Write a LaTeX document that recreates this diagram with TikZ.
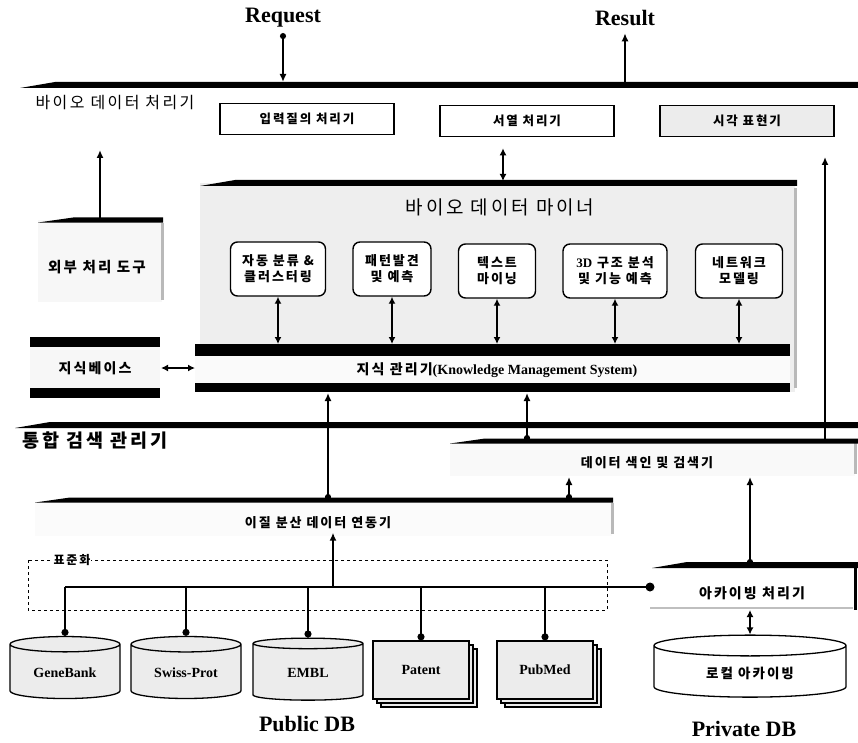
\documentclass[tikz,border=0pt]{standalone}
\usepackage{fontspec}
\setmainfont{Liberation Serif}
\newfontfamily\kr{Noto Sans CJK KR}
\newfontfamily\krw[LetterSpace=15]{Noto Sans CJK KR}
\usetikzlibrary{arrows.meta,shapes.geometric,shadows}

\newcommand{\tierbar}[4]{%
  \fill (#1,#3+#4/2) -- (#1+35,#3-#4/2) -- (#2,#3-#4/2) -- (#2,#3+#4/2) -- cycle;}

\begin{document}
\begin{tikzpicture}[x=1pt,y=-1pt,
    bigtitle/.style={font=\bfseries\fontsize{22}{24}\selectfont},
    layername/.style={font=\krw\fontsize{16}{18}\selectfont},
    blockname/.style={font=\krw\bfseries\fontsize{13}{15}\selectfont},
    procbox/.style={draw, line width=1.6pt, minimum width=174pt, minimum height=31pt, fill=white, font=\krw\bfseries\fontsize{12.5}{14}\selectfont},
    toolbox/.style={draw, line width=1.4pt, rounded corners=7pt, minimum height=54pt, inner sep=2pt, fill=white, align=center, font=\krw\bfseries\fontsize{13}{16}\selectfont},
    dbcyl/.style={cylinder, shape border rotate=90, aspect=0.22, draw, line width=1.3pt, fill=gray!15, minimum width=110pt, minimum height=62pt, font=\bfseries\fontsize{14}{16}\selectfont},
    docpage/.style={draw, line width=1.3pt, fill=gray!15, minimum width=96pt, minimum height=58pt, double copy shadow={shadow xshift=4pt, shadow yshift=-4pt}, font=\bfseries\fontsize{14}{16}\selectfont},
    link/.style={line width=2pt, -{Latex[length=8pt,width=7pt]}},
    dotlink/.style={line width=2pt, {Circle[length=6pt]}-{Latex[length=8pt,width=7pt]}},
    twoway/.style={line width=2pt, {Latex[length=7pt,width=7pt]}-{Latex[length=7pt,width=7pt]}},
    drop/.style={line width=2pt, -{Circle[length=7pt]}},
    shade edge/.style={gray!55, line width=3pt}]
  \useasboundingbox (0,0) rectangle (858,743);

  \node[bigtitle] (req) at (283,18) {Request};
  \node[bigtitle] (res) at (625,18) {Result};
  \tierbar{20}{858}{85}{6}
  \coordinate (reqin) at (283,82);
  \coordinate (resout) at (625,84);
  \draw[dotlink] ([yshift=-2pt]req.south) -- (reqin);
  \draw[link] (resout) -- ([yshift=-4pt]res.south);

  \node[layername] (proc) at (115,103) {바이오 데이터 처리기};
  \node[procbox] (qry) at (307,119) {입력질의 처리기};
  \node[procbox] (seq) at (527,121) {서열 처리기};
  \node[procbox, fill=gray!15] (vis) at (747,121) {시각 표현기};

  \fill[gray!6] (38,220) rectangle (162,302);
  \draw[shade edge] (162,223) -- (162,300);
  \tierbar{38}{163}{220}{5}
  \node[font=\krw\bfseries\fontsize{14.5}{16}\selectfont] (ext) at (97,267) {외부 처리 도구};
  \coordinate (exttop) at (100,219);
  \coordinate (procin) at (100,150);
  \draw[link] (exttop) -- (procin);

  \fill[gray!13] (200,183) rectangle (795,392);
  \draw[shade edge] (795,188) -- (795,388);
  \tierbar{200}{797}{183}{6}
  \node[font=\krw\fontsize{19}{21}\selectfont] (miner) at (500,207) {바이오 데이터 마이너};
  \coordinate (minertop) at (503,181);
  \draw[twoway] (minertop |- seq.south) ++(0,11) -- (minertop);

  \node[toolbox, minimum width=95pt] (clus) at (278,269) {자동 분류 \&\\클러스터링};
  \node[toolbox, minimum width=78pt] (patt) at (392,269) {패턴발견\\및 예측};
  \node[toolbox, minimum width=77pt] (text) at (497,271) {텍스트\\마이닝};
  \node[toolbox, minimum width=104pt] (struct) at (615,271) {{\rmfamily\bfseries 3D} 구조 분석\\및 기능 예측};
  \node[toolbox, minimum width=87pt] (net) at (739,271) {네트워크\\모델링};

  \fill[gray!4] (195,356) rectangle (790,383);
  \fill (195,344) rectangle (790,356);
  \fill (195,383) rectangle (790,392);
  \node[font=\bfseries\fontsize{14}{16}\selectfont] (kms) at (497,370) {{\krw 지식 관리기}(Knowledge Management System)};
  \coordinate (kmsbar) at (497,344);
  \coordinate (kmsfoot) at (497,393);
  \foreach \t in {clus,patt,text,struct,net}
    \draw[twoway] (\t.south) -- (\t.south |- kmsbar);

  \fill[gray!6] (30,347) rectangle (160,388);
  \fill (30,337) rectangle (160,347);
  \fill (30,388) rectangle (160,398);
  \node[font=\krw\bfseries\fontsize{14}{16}\selectfont] (kb) at (95,368) {지식베이스};
  \coordinate (kbr) at (161,368);
  \coordinate (kmsl) at (195,368);
  \draw[twoway] (kbr) -- (kmsl);

  \tierbar{15}{858}{425}{6}
  \node[font=\krw\bfseries\fontsize{18.5}{20}\selectfont] (integ) at (95,441) {통합 검색 관리기};

  \fill[gray!5] (450,443) rectangle (855,476);
  \draw[shade edge] (855,443) -- (855,474);
  \tierbar{450}{858}{441}{5}
  \node[blockname] (idx) at (647,463) {데이터 색인 및 검색기};
  \coordinate (idxkms) at (527,441);
  \coordinate (idxvis) at (825,441);
  \coordinate (visin) at (825,157);
  \draw[dotlink] (idxkms) -- (idxkms |- kmsfoot);
  \draw[link] (idxvis) -- (visin);

  \fill[gray!3] (35,502) rectangle (612,536);
  \draw[shade edge] (612,503) -- (612,534);
  \tierbar{35}{613}{500}{5}
  \node[blockname] (hetero) at (318,523) {이질 분산 데이터 연동기};
  \coordinate (hetkms) at (328,500);
  \coordinate (hetidx) at (569,500);
  \coordinate (idxfoot) at (569,477);
  \draw[dotlink] (hetkms) -- (hetkms |- kmsfoot);
  \draw[dotlink] (hetidx) -- (idxfoot);

  \tierbar{652}{858}{565}{6}
  \draw[gray!50, line width=2pt] (650,608) -- (853,608);
  \draw[line width=3pt] (855,565) -- (855,610);
  \node[font=\krw\bfseries\fontsize{14}{16}\selectfont] (arch) at (752,593) {아카이빙 처리기};
  \coordinate (archtop) at (750,565);
  \coordinate (archfoot) at (750,610);
  \draw[dotlink] (archtop) -- (archtop |- idxfoot);

  \draw[dashed, line width=1pt] (28,560) rectangle (607,610);
  \node[fill=white, inner sep=1pt, font=\krw\bfseries\fontsize{12}{14}\selectfont] (std) at (72,560) {표준화};

  \node[dbcyl] (gene) at (65,673) {GeneBank};
  \node[dbcyl] (swiss) at (186,673) {Swiss-Prot};
  \node[dbcyl] (embl) at (308,673) {EMBL};
  \node[docpage] (patent) at (421,670) {Patent};
  \node[docpage] (pubmed) at (545,670) {PubMed};
  \node[dbcyl, fill=white, minimum width=192pt] (local) at (750,673) {\krw\bfseries\fontsize{13.5}{15}\selectfont 로컬 아카이빙};

  \coordinate (busl) at (65,587);
  \coordinate (busr) at (650,587);
  \draw[line width=2pt] (busl) -- (busr);
  \fill (busr) circle (4.5);
  \foreach \d in {gene,swiss,embl,patent,pubmed}
    \draw[drop] (\d.north |- busl) -- (\d.north);
  \coordinate (busup) at (333,587);
  \draw[link] (busup) -- (busup |- hetero.south);
  \draw[twoway] (archfoot) -- (local.north);

  \node[bigtitle] (pub) at (307,724) {Public DB};
  \node[bigtitle] (priv) at (744,729) {Private DB};
\end{tikzpicture}
\end{document}
